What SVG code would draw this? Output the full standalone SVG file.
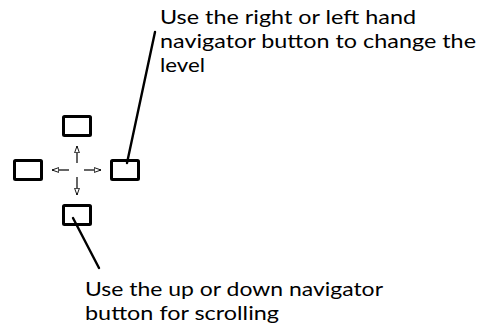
<svg xmlns="http://www.w3.org/2000/svg" width="487" height="329" viewBox="0 0 487 329">
<style>
.btn{fill:#fff;stroke:#000;stroke-width:3}
.lead{stroke:#000;stroke-width:2.4;fill:none;stroke-linecap:round}
.arr{stroke:#000;stroke-width:1.2;fill:none}
.lbl{font-family:Lato,"Noto Sans",sans-serif;font-size:20px;fill:#000}
</style>
<defs>
<marker id="ah" viewBox="0 0 10 8" refX="9" refY="4" markerWidth="8" markerHeight="6" markerUnits="userSpaceOnUse" orient="auto">
<path d="M0,0.8 L9,4 L0,7.2 Z" fill="#fff" stroke="#000" stroke-width="1.2"/>
</marker>
</defs>
<rect width="487" height="329" fill="#fff"/>
<g id="btn-up"><rect class="btn" x="63.5" y="116.5" width="27" height="19" rx="1"/></g>
<g id="btn-left"><rect class="btn" x="14.5" y="160.5" width="27" height="19" rx="1"/></g>
<g id="btn-right"><rect class="btn" x="111.5" y="160.5" width="27" height="19" rx="1"/></g>
<g id="btn-down"><rect class="btn" x="63.5" y="205.5" width="27" height="19" rx="1"/></g>
<g id="connectors">
<line class="arr" x1="77" y1="163" x2="77" y2="146" marker-end="url(#ah)"/>
<line class="arr" x1="69" y1="170" x2="52" y2="170" marker-end="url(#ah)"/>
<line class="arr" x1="84" y1="170" x2="101" y2="170" marker-end="url(#ah)"/>
<line class="arr" x1="77" y1="177" x2="77" y2="195" marker-end="url(#ah)"/>
<line class="lead" x1="127" y1="163" x2="155" y2="32"/>
<line class="lead" x1="73" y1="218" x2="99" y2="268"/>
</g>
<g id="label-right">
<text class="lbl" x="160" y="23.5" textLength="256" lengthAdjust="spacingAndGlyphs">Use the right or left hand</text>
<text class="lbl" x="160" y="47.5" textLength="316" lengthAdjust="spacingAndGlyphs">navigator button to change the</text>
<text class="lbl" x="160" y="71.5" textLength="45" lengthAdjust="spacingAndGlyphs">level</text>
</g>
<g id="label-down">
<text class="lbl" x="85" y="295.5" textLength="298" lengthAdjust="spacingAndGlyphs">Use the up or down navigator</text>
<text class="lbl" x="85" y="319.5" textLength="194" lengthAdjust="spacingAndGlyphs">button for scrolling</text>
</g>
</svg>
